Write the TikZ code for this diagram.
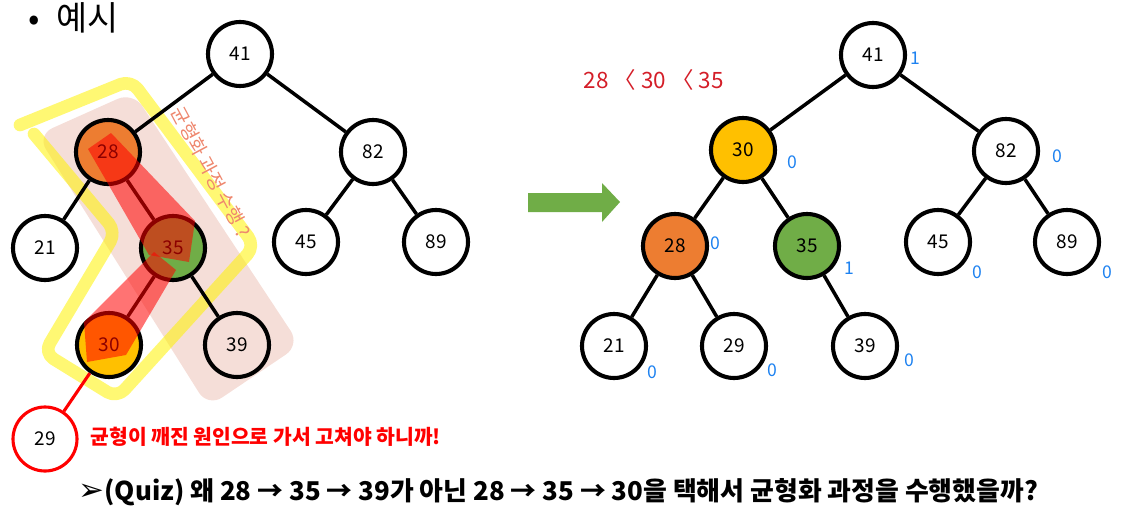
\documentclass[tikz,border=0pt]{standalone}
\usepackage{fontspec}
\setmainfont{Noto Sans CJK KR}
\newfontfamily\symfont{DejaVu Sans}
\tikzset{every picture/.style={line width=0.75pt}}
\definecolor{nodeorange}{RGB}{237,125,49}
\definecolor{nodeyellow}{RGB}{255,192,0}
\definecolor{nodegreen}{RGB}{112,173,71}
\definecolor{balblue}{RGB}{30,130,240}
\definecolor{hlred}{RGB}{255,0,0}
\definecolor{handred}{RGB}{212,30,40}
\definecolor{notesalmon}{RGB}{238,135,110}
\definecolor{bandpink}{RGB}{238,200,190}

\begin{document}
\begin{tikzpicture}[x=0.025cm, y=-0.025cm,
    hnode/.style={circle, draw, line width=2.9pt, minimum size=1.6cm, inner sep=0pt, fill=white, font=\fontsize{13.5}{15}\selectfont},
    treeline/.style={line width=2.5pt},
    bal/.style={text=balblue, inner sep=0pt, font=\fontsize{12.5}{14}\selectfont}]
    \useasboundingbox (0,0) rectangle (1129,512);

    \node[anchor=west, inner sep=0pt, font=\fontsize{24}{26}\selectfont] (title) at (28,18) {•\hspace{12pt}예시};

    \fill[bandpink, opacity=0.6, rounded corners=12] (37,135) -- (133,92) -- (300,345) -- (208,407) -- cycle;
    \draw[yellow, opacity=0.55, line width=9pt, line join=round, line cap=round, rounded corners=8] (20,125) -- (131,80) -- (255,246) -- (117,398) -- (44,353) -- (116,232) -- (34,134);

    \node[hnode] (l41) at (240,54) {41};
    \node[hnode, fill=nodeorange] (l28) at (108,152) {28};
    \node[hnode] (l82) at (373,152) {82};
    \node[hnode] (l21) at (45,248) {21};
    \node[hnode, fill=nodegreen] (l35) at (173,248) {35};
    \node[hnode] (l45) at (306,242) {45};
    \node[hnode] (l89) at (436,242) {89};
    \node[hnode, fill=nodeyellow] (l30) at (109,345) {30};
    \node[hnode, fill=none] (l39) at (237,345) {39};
    \node[hnode, draw=hlred, line width=2.2pt] (l29) at (45,439) {29};
    \draw[treeline] (l41) -- (l28);
    \draw[treeline] (l41) -- (l82);
    \draw[treeline] (l28) -- (l21);
    \draw[treeline] (l28) -- (l35);
    \draw[treeline] (l82) -- (l45);
    \draw[treeline] (l82) -- (l89);
    \draw[treeline] (l35) -- (l30);
    \draw[treeline] (l35) -- (l39);
    \draw[treeline, hlred, line width=2.2pt] (l30) -- (l29);

    \fill[hlred, opacity=0.55] (88,149) -- (111,133) -- (195,221) -- (189,262) -- (149,255) -- cycle;
    \fill[hlred, opacity=0.55] (176,270) -- (154,252) -- (84,322) -- (87,362) -- (126,355) -- cycle;
    \node[text=notesalmon, rotate=-62, inner sep=0pt, font=\fontsize{13.5}{15}\selectfont] (note) at (211,172) {균형화 과정 수행 ?};

    \node[anchor=west, inner sep=0pt, text=hlred, font=\bfseries\fontsize{14.5}{16}\selectfont] (cause) at (90,437) {균형이 깨진 원인으로 가서 고쳐야 하니까!};

    \node[anchor=west, inner sep=0pt, text=handred, font=\fontsize{16}{18}\selectfont] (order) at (583,80) {28 〈 30 〈 35};

    \fill[nodegreen] (528,193) -- (602,193) -- (602,183) -- (620,202) -- (602,222) -- (602,212) -- (528,212) -- cycle;

    \node[hnode] (r41) at (873,55) {41};
    \node[hnode, fill=nodeyellow] (r30) at (743,150) {30};
    \node[hnode] (r82) at (1006,151) {82};
    \node[hnode, fill=nodeorange] (r28) at (675,246) {28};
    \node[hnode, fill=nodegreen] (r35) at (807,246) {35};
    \node[hnode] (r45) at (938,242) {45};
    \node[hnode] (r89) at (1067,242) {89};
    \node[hnode] (r21) at (614,346) {21};
    \node[hnode] (r29) at (734,346) {29};
    \node[hnode] (r39) at (865,346) {39};
    \draw[treeline] (r41) -- (r30);
    \draw[treeline] (r41) -- (r82);
    \draw[treeline] (r30) -- (r28);
    \draw[treeline] (r30) -- (r35);
    \draw[treeline] (r82) -- (r45);
    \draw[treeline] (r82) -- (r89);
    \draw[treeline] (r28) -- (r21);
    \draw[treeline] (r28) -- (r29);
    \draw[treeline] (r35) -- (r39);

    \node[bal] (b41) at (915,58) {1};
    \node[bal] (b30) at (792,162) {0};
    \node[bal] (b82) at (1057,156) {0};
    \node[bal] (b28) at (715,243) {0};
    \node[bal] (b35) at (849,268) {1};
    \node[bal] (b45) at (977,272) {0};
    \node[bal] (b89) at (1107,272) {0};
    \node[bal] (b21) at (652,372) {0};
    \node[bal] (b29) at (772,370) {0};
    \node[bal] (b39) at (909,360) {0};

    \node[anchor=west, inner sep=0pt, font=\bfseries\fontsize{18.4}{21}\selectfont] (quiz) at (78,492) {{\symfont\fontsize{22}{22}\selectfont ➢}(Quiz) 왜 28 → 35 → 39가 아닌 28 → 35 → 30을 택해서 균형화 과정을 수행했을까?};
\end{tikzpicture}
\end{document}
